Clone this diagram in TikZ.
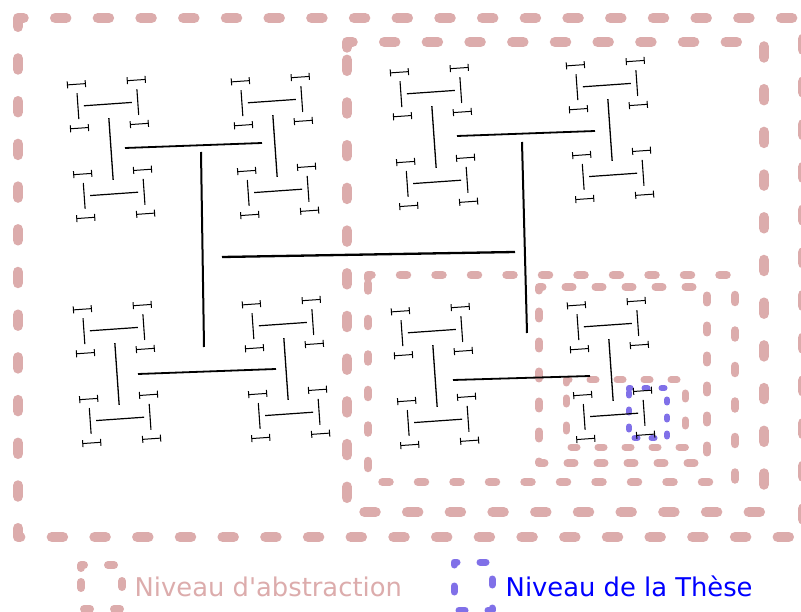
\documentclass[tikz,border=0pt]{standalone}
\usepackage{fontspec}
\usepackage{xcolor}
\usepackage{tikz}
\usetikzlibrary{positioning}
\newfontfamily\legendfont{DejaVu Sans}
\definecolor{abstpink}{RGB}{220,172,172}
\definecolor{thesebleu}{RGB}{128,112,232}
\tikzset{
  niveau/.style={line cap=round,line join=round},
  trait/.style={line cap=butt,black},
  legende/.style={anchor=base west,inner sep=0pt,font={\legendfont\fontsize{25.8}{30}\selectfont}}
}
% petite rotation des branches
\newcommand\htilt{4}
% branche de l'arbre en H : centre x, centre y, niveau
\newcommand\hbranch[3]{%
  \ifnum#3<8\relax
  \begingroup
    \pgfmathsetmacro\hh{{0,0,0,31,24,13,9,3.5}[#3]}%
    \pgfmathsetmacro\hd{{0,0,0,45,30,22,9,0}[#3]}%
    \pgfmathsetmacro\hw{{0,0,0,1.3,1.2,1.1,1.0,1.0}[#3]}%
    \ifodd#3\relax
      \pgfmathsetmacro\ux{sin(\htilt)}\pgfmathsetmacro\uy{cos(\htilt)}%
    \else
      \pgfmathsetmacro\ux{cos(\htilt)}\pgfmathsetmacro\uy{-sin(\htilt)}%
    \fi
    \draw[trait,line width=\hw pt] ({#1-\hh*(\ux)},{#2-\hh*(\uy)}) -- ({#1+\hh*(\ux)},{#2+\hh*(\uy)});
    \pgfmathsetmacro\hax{#1-\hd*(\ux)}\pgfmathsetmacro\hay{#2-\hd*(\uy)}%
    \pgfmathsetmacro\hbx{#1+\hd*(\ux)}\pgfmathsetmacro\hby{#2+\hd*(\uy)}%
    \edef\hnext{\noexpand\hbranch{\hax}{\hay}{\the\numexpr#3+1\relax}\noexpand\hbranch{\hbx}{\hby}{\the\numexpr#3+1\relax}}%
    \hnext
  \endgroup
  \fi}

\begin{document}
\begin{tikzpicture}[x=1pt,y=-1pt]
    \useasboundingbox (0,0) rectangle (801,612);
    % niveaux d'abstraction
    \foreach \xa/\ya/\xb/\yb/\lw/\on/\off in {18/18/803/537/10.5/11/31.7,347/42/764/512/10.5/11/31.7,368/275/735/482/8.5/7/28.5,539/287/707/463/8/7/23,566/380/685/447/7/6/21,81/565/122/609/8/6/24}
        \draw[niveau,draw=abstpink,line width=\lw pt,dash pattern=on \on pt off \off pt] (\xa,{\ya+\on/2}) -- (\xa,\ya) -- (\xb,\ya) -- (\xb,\yb) -- (\xa,\yb) -- cycle;
    % niveau de la these
    \foreach \xa/\ya/\xb/\yb/\lw/\on/\off in {629/388/667/438/6/3/14,454/562/492/610/7/6/23}
        \draw[niveau,draw=thesebleu,line width=\lw pt,dash pattern=on \on pt off \off pt] (\xa,{\ya+\on/2}) -- (\xa,\ya) -- (\xb,\ya) -- (\xb,\yb) -- (\xa,\yb) -- cycle;

    % arbre en H
    \draw[trait,line width=2.3pt] (222,257) -- (515,252);
    \draw[trait,line width=2pt] (201,152) -- (204,347);
    \draw[trait,line width=2pt] (522,142) -- (527,333);
    \foreach \xa/\ya/\xb/\yb in {125/148/262/143,138/374/276/369,457/136/595/131,453/380/590/376}
        \draw[trait,line width=1.8pt] (\xa,\ya) -- (\xb,\yb);
    \foreach \cx/\cy in {111/149,275/146,117/374,286/369,434/137,610/130,435/376,611/370}
        \hbranch{\cx}{\cy}{3};

    \node[legende,text=abstpink] (legabs) at (134.5,596) {Niveau d'abstraction};
    \node[legende,text=blue] (legthese) at (505.5,596) {Niveau de la Thèse};
\end{tikzpicture}
\end{document}
